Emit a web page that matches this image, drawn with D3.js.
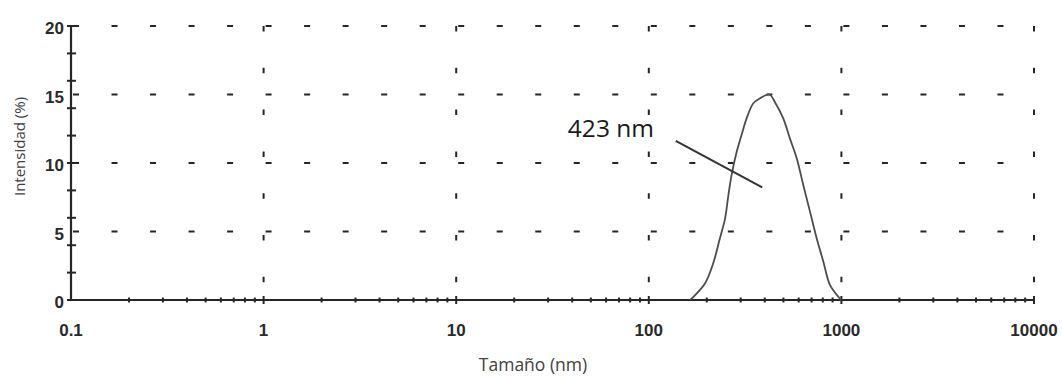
<!DOCTYPE html>
<html>
<head>
<meta charset="utf-8">
<script src="https://cdn.jsdelivr.net/npm/d3@7"></script>
<style>
  body { margin: 0; background: #fff; }
  svg { display: block; }
</style>
</head>
<body>
<svg id="chart" width="1062" height="376"></svg>
<script>
// Size distribution by intensity (DLS)
const sizeNm    = [164, 174, 196, 216, 234, 249, 259, 269, 286, 303, 322, 349, 378, 423, 455, 499, 540, 586, 634, 687, 744, 806, 872, 980, 1000];
const intensity = [0, 0.36, 1.22, 2.68, 4.5, 5.96, 7.66, 9.12, 10.82, 12.04, 13.26, 14.36, 14.72, 15.0, 14.36, 13.26, 11.8, 10.34, 8.39, 6.45, 4.5, 2.8, 1.1, 0.12, 0];

const xTickValues = [0.1, 1, 10, 100, 1000, 10000];
const xTickLabels = ["0.1", "1", "10", "100", "1000", "10000"];
const yTickValues = [0, 5, 10, 15, 20];
const yTickLabels = ["0", "5", "10", "15", "20"];
const yGridValues = [5, 10, 15, 20];

const xTitle = "Tamaño (nm)";
const yTitle = "Intensidad (%)";

// Peak annotation (data units)
const peakText = "423 nm";
const peakTextAt = [38, 11.9];
const leaderSize = [138, 388];
const leaderValue = [11.62, 8.22];

const svg = d3.select("#chart");

const x = d3.scaleLog().domain([0.1, 10000]).range([71, 1034]);
const y = d3.scaleLinear().domain([0, 20]).range([300, 26]);

const ink = "#262626";

// Dotted grid
const grid = svg.append("g").attr("stroke", ink).attr("fill", "none");
grid.selectAll("line.h").data(yGridValues).join("line")
  .attr("class", "h")
  .attr("x1", x(0.1)).attr("x2", x(10000))
  .attr("y1", d => y(d)).attr("y2", d => y(d))
  .attr("stroke-width", 2.2)
  .attr("stroke-dasharray", "6 32.52")
  .attr("stroke-dashoffset", -2);
grid.selectAll("line.v").data(xTickValues.slice(1)).join("line")
  .attr("class", "v")
  .attr("x1", d => x(d)).attr("x2", d => x(d))
  .attr("y1", y(20)).attr("y2", y(0))
  .attr("stroke-width", 2)
  .attr("stroke-dasharray", "5.5 36.3");

// Axes
const axes = svg.append("g").attr("stroke", ink).attr("fill", "none");
axes.append("line")
  .attr("x1", x(0.1)).attr("x2", x(10000))
  .attr("y1", y(0)).attr("y2", y(0))
  .attr("stroke-width", 2.2);
axes.append("line")
  .attr("x1", x(0.1)).attr("x2", x(0.1))
  .attr("y1", y(20)).attr("y2", y(0))
  .attr("stroke-width", 2.2);

// x ticks: decades longer, intermediate values short
const decadeSet = new Set(xTickValues);
const xAllTicks = x.ticks().filter(d => d > 0.1);
axes.selectAll("line.xt").data(xAllTicks).join("line")
  .attr("class", "xt")
  .attr("x1", d => x(d)).attr("x2", d => x(d))
  .attr("y1", d => y(0) - (decadeSet.has(d) ? 4 : 2.5))
  .attr("y2", d => y(0) + (decadeSet.has(d) ? 4 : 2.5))
  .attr("stroke-width", 2);

// y ticks every 2.5
axes.selectAll("line.yt").data(y.ticks(8)).join("line")
  .attr("class", "yt")
  .attr("x1", x(0.1) - 4).attr("x2", x(0.1) + 5)
  .attr("y1", d => y(d)).attr("y2", d => y(d))
  .attr("stroke-width", 2);

// Tick labels
const tickFont = { family: "Liberation Sans, Arial, sans-serif", size: "17px", weight: "bold" };
svg.append("g").selectAll("text").data(xTickValues).join("text")
  .attr("x", d => x(d)).attr("y", 336)
  .attr("text-anchor", "middle")
  .attr("font-family", tickFont.family).attr("font-size", tickFont.size)
  .attr("font-weight", tickFont.weight).attr("fill", "#2a2a2a")
  .text((d, i) => xTickLabels[i]);
svg.append("g").selectAll("text").data(yTickValues).join("text")
  .attr("x", 64).attr("y", d => y(d) + 8)
  .attr("text-anchor", "end")
  .attr("font-family", tickFont.family).attr("font-size", tickFont.size)
  .attr("font-weight", tickFont.weight).attr("fill", "#2a2a2a")
  .text((d, i) => yTickLabels[i]);

// Axis titles
svg.append("text")
  .attr("x", 533).attr("y", 371)
  .attr("text-anchor", "middle")
  .attr("font-family", "Open Sans, sans-serif").attr("font-size", "17.5px")
  .attr("fill", "#404040")
  .text(xTitle);
svg.append("text")
  .attr("transform", "translate(25,146.5) rotate(-90)")
  .attr("text-anchor", "middle")
  .attr("font-family", "Open Sans, sans-serif").attr("font-size", "15px")
  .attr("fill", "#404040")
  .text(yTitle);

// Distribution curve
const points = sizeNm.map((s, i) => [s, intensity[i]]);
const line = d3.line()
  .x(d => x(d[0])).y(d => y(d[1]))
  .curve(d3.curveCatmullRom.alpha(0.5));
svg.append("path")
  .datum(points)
  .attr("d", line)
  .attr("fill", "none")
  .attr("stroke", "#4d4d4d")
  .attr("stroke-width", 1.8)
  .attr("stroke-linejoin", "round");

// Peak annotation
svg.append("line")
  .attr("x1", x(leaderSize[0])).attr("y1", y(leaderValue[0]))
  .attr("x2", x(leaderSize[1])).attr("y2", y(leaderValue[1]))
  .attr("stroke", "#333").attr("stroke-width", 2);
svg.append("text")
  .attr("x", x(peakTextAt[0])).attr("y", y(peakTextAt[1]))
  .attr("font-family", "Open Sans, sans-serif").attr("font-size", "24.5px")
  .attr("fill", "#1a1a1a")
  .text(peakText);
</script>
</body>
</html>
